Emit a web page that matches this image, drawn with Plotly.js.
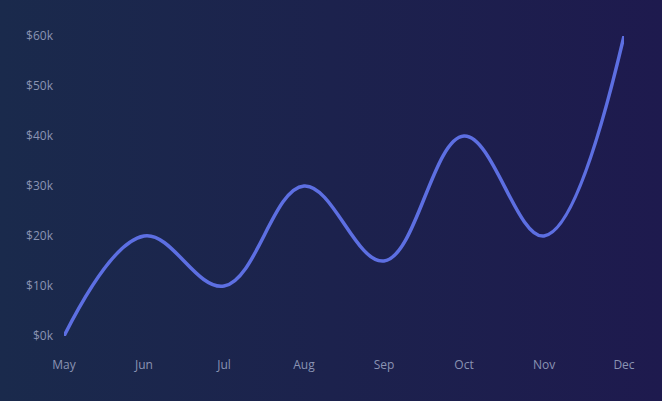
<!DOCTYPE html>
<html><head><meta charset="utf-8">
<script src="https://cdn.plot.ly/plotly-3.0.1.min.js"></script>
<style>
html,body{margin:0;padding:0;}
#chart{width:662px;height:401px;background:linear-gradient(to right,#1a2a4c,#1e1a4e);}
</style></head>
<body><div id="chart"></div>
<script>
const months = ["May","Jun","Jul","Aug","Sep","Oct","Nov","Dec"];
const revenue = [0,20000,10000,30000,15000,40000,20000,60000];
const yTicks = [0,10000,20000,30000,40000,50000,60000];
const yTickLabels = ["$0k","$10k","$20k","$30k","$40k","$50k","$60k"];

Plotly.newPlot("chart",[{
  x: months, y: revenue, type:"scatter", mode:"lines",
  line:{color:"#5d6fe2",width:3.5,shape:"spline",smoothing:1.1},
  hoverinfo:"x+y"
}],{
  width:662,height:401,
  paper_bgcolor:"rgba(0,0,0,0)",plot_bgcolor:"rgba(0,0,0,0)",
  margin:{l:64,r:38,t:36,b:65},
  font:{family:"Open Sans, sans-serif",size:12,color:"#8a93b3"},
  showlegend:false,
  xaxis:{showgrid:false,zeroline:false,showline:false,ticks:"",ticklabelstandoff:20,fixedrange:true},
  yaxis:{range:[0,60000],tickvals:yTicks,ticktext:yTickLabels,showgrid:false,zeroline:false,showline:false,ticks:"",ticklabelstandoff:10,fixedrange:true}
},{displayModeBar:false,staticPlot:true});
</script></body></html>
